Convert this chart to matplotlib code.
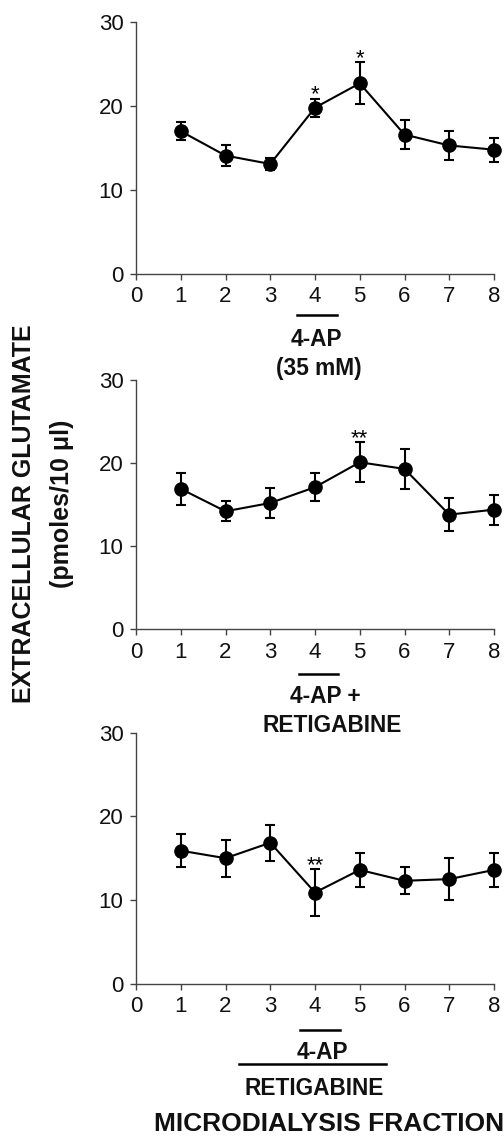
import matplotlib
matplotlib.use("Agg")
import matplotlib.pyplot as plt
from matplotlib.transforms import blended_transform_factory
from matplotlib.lines import Line2D

plt.rcParams['font.family'] = ['Liberation Sans', 'DejaVu Sans']

fractions = [1, 2, 3, 4, 5, 6, 7, 8]
xticks = [0, 1, 2, 3, 4, 5, 6, 7, 8]
yticks = [0, 10, 20, 30]

ap_mean = [17.0, 14.1, 13.1, 19.8, 22.7, 16.6, 15.3, 14.8]
ap_err = [1.1, 1.25, 0.7, 1.05, 2.5, 1.75, 1.7, 1.45]
ap_sig = {4: "*", 5: "*"}

apret_mean = [16.9, 14.2, 15.2, 17.1, 20.1, 19.3, 13.8, 14.4]
apret_err = [1.9, 1.2, 1.8, 1.7, 2.4, 2.45, 2.0, 1.8]
apret_sig = {5: "**"}

pre_mean = [15.9, 15.0, 16.85, 10.9, 13.6, 12.3, 12.5, 13.6]
pre_err = [1.95, 2.2, 2.15, 2.75, 2.05, 1.6, 2.5, 2.05]
pre_sig = {4: "**"}

W, H = 504, 1136
fig = plt.figure(figsize=(W / 100, H / 100), dpi=100)

def fy(py):
    return 1 - py / H

def make_axes(top_px, bottom_px, means, errs, sig):
    left, right = 136, 494
    ax = fig.add_axes([left / W, fy(bottom_px), (right - left) / W, (bottom_px - top_px) / H])
    ax.errorbar(fractions, means, yerr=errs, fmt='-o', color='black', ecolor='black',
                markersize=9.5, linewidth=1.5, elinewidth=1.5, capsize=3.6, capthick=1.5,
                clip_on=False, zorder=3)
    for x, s in sig.items():
        i = fractions.index(x)
        ax.text(x, means[i] + errs[i] - 0.2, s, ha='center', va='baseline', fontsize=16)
    ax.set_xlim(0, 8)
    ax.set_ylim(0, 30)
    ax.set_xticks(xticks)
    ax.set_yticks(yticks)
    for sp in ['top', 'right']:
        ax.spines[sp].set_visible(False)
    for sp in ['left', 'bottom']:
        ax.spines[sp].set_color('#444444')
        ax.spines[sp].set_linewidth(1.0)
    ax.tick_params(axis='both', direction='out', length=4, width=1.0, color='#444444',
                   labelsize=16, labelcolor='#111111')
    ax.tick_params(axis='x', pad=5)
    ax.tick_params(axis='y', pad=5)
    return ax

ax1 = make_axes(22, 274, ap_mean, ap_err, ap_sig)
ax2 = make_axes(380, 629.3, apret_mean, apret_err, apret_sig)
ax3 = make_axes(732.7, 983.7, pre_mean, pre_err, pre_sig)

def bar(ax, x0, x1, ypx):
    tr = blended_transform_factory(ax.transData, fig.transFigure)
    ax.add_line(Line2D([x0, x1], [fy(ypx), fy(ypx)], transform=tr, color='black',
                       linewidth=1.8, clip_on=False))

def label(ax, x, ypx, s, size=16.3):
    tr = blended_transform_factory(ax.transData, fig.transFigure)
    ax.text(x, fy(ypx), s, transform=tr, ha='center', va='baseline', fontsize=size,
            fontweight='bold', clip_on=False, color='#111111')

bar(ax1, 3.6, 4.49, 315)
label(ax1, 4.04, 346, "4-AP")
label(ax1, 4.09, 375, "(35 mM)")

bar(ax2, 3.64, 4.51, 674)
label(ax2, 4.22, 703, "4-AP +")
label(ax2, 4.39, 732, "RETIGABINE")

bar(ax3, 3.66, 4.56, 1030)
label(ax3, 4.16, 1059, "4-AP")
bar(ax3, 2.3, 5.59, 1064)
label(ax3, 3.98, 1095, "RETIGABINE")
label(ax3, 4.31, 1131, "MICRODIALYSIS FRACTION", size=19)

fig.text(24 / W, fy(514), "EXTRACELLULAR GLUTAMATE", rotation=90, ha='center', va='center',
         fontsize=18, fontweight='bold', color='#111111')
fig.text(62 / W, fy(504), "(pmoles/10 \u03bcl)", rotation=90, ha='center', va='center',
         fontsize=18, fontweight='bold', color='#111111')

fig.savefig("out.png", dpi=100)
